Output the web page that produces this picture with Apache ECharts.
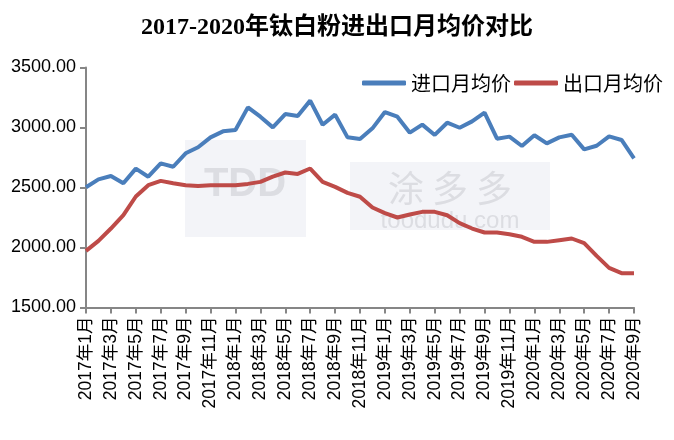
<!DOCTYPE html>
<html><head><meta charset="utf-8">
<script src="https://cdn.jsdelivr.net/npm/echarts@6/dist/echarts.min.js"></script>
<style>html,body{margin:0;padding:0;background:#fff}#c{width:674px;height:440px}</style>
</head><body><div id="c"></div>
<script>
const categories = [];
for (let y = 2017; y <= 2020; y++) { for (let m = 1; m <= 12; m++) { if (y === 2020 && m > 9) break; categories.push(y + '年' + m + '月'); } }
const importPrice = [2502,2568,2596,2535,2657,2590,2701,2673,2785,2835,2918,2968,2979,3168,3090,3001,3112,3096,3224,3023,3107,2918,2904,2993,3129,3090,2957,3024,2938,3040,2998,3051,3124,2907,2924,2846,2935,2868,2918,2940,2818,2848,2926,2896,2743];
const exportPrice = [1972,2055,2158,2269,2425,2519,2555,2536,2519,2513,2519,2519,2519,2530,2547,2591,2625,2613,2658,2547,2505,2455,2423,2333,2286,2250,2275,2297,2297,2269,2203,2158,2125,2125,2111,2089,2047,2047,2061,2075,2036,1930,1830,1786,1786];
const seriesNames = ['进口月均价','出口月均价'];
const chart = echarts.init(document.getElementById('c'));
chart.setOption({
  animation:false,
  backgroundColor:'#fff',
  title:{text:'2017-2020年钛白粉进出口月均价对比',left:'center',top:11,textStyle:{fontFamily:'"Liberation Serif","Noto Sans CJK SC"',fontSize:24,fontWeight:'bold',color:'#000'}},
  legend:{right:6,top:68,itemWidth:44,itemHeight:5,itemGap:3,textStyle:{fontSize:20,color:'#000',fontFamily:'"Noto Sans CJK SC"'},data:seriesNames.map(n=>({name:n,icon:'roundRect'}))},
  grid:{left:86,right:40,top:67.5,bottom:132.5,containLabel:false},
  graphic:[
    {type:'group',z:-10,children:[
      {type:'rect',shape:{x:185,y:140,width:121,height:97},style:{fill:'#f3f4f8'},z:-10},
      {type:'text',x:245,y:185,style:{text:'TDD',fontSize:40,fontWeight:'bold',fill:'#dcdde2',align:'center',verticalAlign:'middle',fontFamily:'"Liberation Sans"'},z:-9},
      {type:'rect',shape:{x:350,y:162,width:200,height:68},style:{fill:'#f3f4f8'},z:-10},
      {type:'text',x:450,y:188,style:{text:'涂 多 多',fontSize:36,fill:'#dcdde2',align:'center',verticalAlign:'middle',fontFamily:'"Noto Sans CJK SC"'},z:-9},
      {type:'text',x:450,y:221,style:{text:'toodudu.com',fontSize:24,fill:'#dcdde2',align:'center',verticalAlign:'middle',fontFamily:'"Liberation Sans"'},z:-9}
    ]}
  ],
  xAxis:{type:'category',data:categories,boundaryGap:false,
    axisLine:{lineStyle:{color:'#868686',width:2}},
    axisTick:{show:true,interval:1,length:6,lineStyle:{color:'#868686',width:2}},
    axisLabel:{interval:1,rotate:90,fontSize:17.5,color:'#000',margin:9,fontFamily:'"Liberation Sans","Noto Sans CJK SC"'}},
  yAxis:{type:'value',min:1500,max:3500,interval:500,
    axisLine:{show:true,lineStyle:{color:'#868686',width:2}},
    axisTick:{show:true,length:6,lineStyle:{color:'#868686',width:2}},
    splitLine:{show:false},
    axisLabel:{formatter:v=>v.toFixed(2),fontSize:18,color:'#000',margin:10,fontFamily:'"Liberation Sans"'}},
  series:[
    {name:seriesNames[0],type:'line',data:importPrice,symbol:'none',z:5,lineStyle:{width:4,color:'#4a7ebb'},itemStyle:{color:'#4a7ebb'}},
    {name:seriesNames[1],type:'line',data:exportPrice,symbol:'none',z:5,lineStyle:{width:4,color:'#be4b48'},itemStyle:{color:'#be4b48'}}
  ]
});
</script></body></html>
